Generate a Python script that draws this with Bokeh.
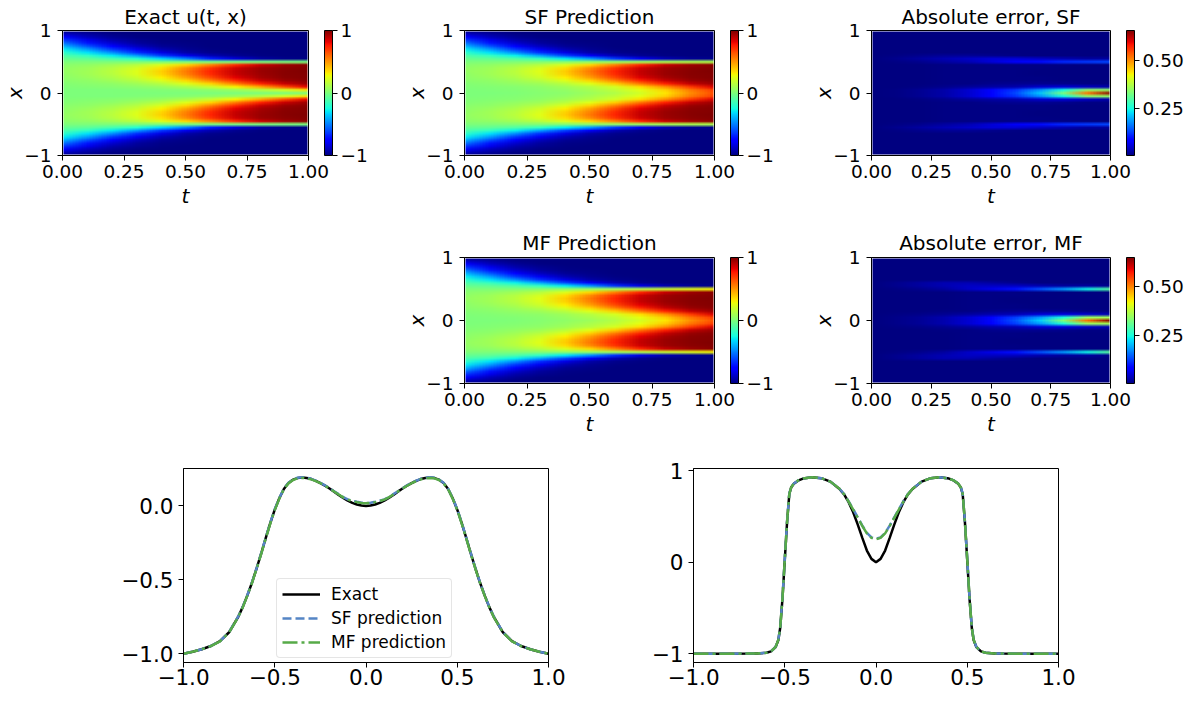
import base64
import struct
import zlib

import numpy as np
from bokeh.plotting import figure
from bokeh.layouts import row, column
from bokeh.models import (Range1d, FixedTicker, CustomJSTickFormatter, LinearColorMapper,
                          ColorBar, Spacer)
from bokeh.embed import file_html
from bokeh.resources import INLINE

# ---------------------------------------------------------------- data
# time samples (columns) and non-negative x samples (rows, mirrored for x<0)
T_GRID = [0.0, 0.1, 0.2, 0.3, 0.4, 0.5, 0.6, 0.7, 0.8, 0.9, 1.0]
X_HALF = [0.0, 0.05, 0.1, 0.15, 0.2, 0.25, 0.3, 0.35, 0.4, 0.45, 0.5,
          0.55, 0.6, 0.65, 0.7, 0.75, 0.8, 0.85, 0.9, 0.95, 1.0]

EXACT_HALF = [
    [0.000, 0.000, 0.000, 0.000, 0.000, 0.000, 0.000, 0.000, 0.000, 0.000, 0.000],
    [0.002, 0.004, 0.007, 0.011, 0.018, 0.030, 0.050, 0.082, 0.134, 0.217, 0.344],
    [0.010, 0.016, 0.026, 0.043, 0.070, 0.115, 0.187, 0.300, 0.460, 0.650, 0.816],
    [0.020, 0.033, 0.054, 0.089, 0.146, 0.237, 0.373, 0.552, 0.738, 0.874, 0.948],
    [0.032, 0.053, 0.088, 0.144, 0.233, 0.367, 0.546, 0.732, 0.871, 0.946, 0.979],
    [0.044, 0.073, 0.119, 0.195, 0.311, 0.474, 0.664, 0.826, 0.924, 0.970, 0.989],
    [0.053, 0.087, 0.143, 0.231, 0.365, 0.542, 0.729, 0.869, 0.945, 0.978, 0.992],
    [0.056, 0.092, 0.150, 0.242, 0.381, 0.561, 0.746, 0.879, 0.950, 0.981, 0.993],
    [0.049, 0.081, 0.133, 0.216, 0.343, 0.516, 0.705, 0.854, 0.938, 0.976, 0.991],
    [0.032, 0.052, 0.086, 0.141, 0.228, 0.360, 0.537, 0.724, 0.866, 0.944, 0.978],
    [0.000, 0.000, 0.000, 0.000, 0.000, 0.000, 0.000, 0.000, 0.000, 0.000, 0.000],
    [-0.047, -0.078, -0.128, -0.208, -0.330, -0.500, -0.689, -0.843, -0.933, -0.974, -0.990],
    [-0.111, -0.181, -0.291, -0.448, -0.637, -0.806, -0.913, -0.965, -0.987, -0.995, -0.998],
    [-0.192, -0.307, -0.470, -0.659, -0.822, -0.922, -0.969, -0.989, -0.996, -0.999, -1.000],
    [-0.288, -0.444, -0.633, -0.803, -0.912, -0.965, -0.987, -0.995, -0.998, -1.000, -1.000],
    [-0.398, -0.582, -0.763, -0.889, -0.955, -0.983, -0.994, -0.998, -1.000, -1.000, -1.000],
    [-0.518, -0.707, -0.855, -0.938, -0.977, -0.992, -0.997, -0.999, -1.000, -1.000, -1.000],
    [-0.644, -0.811, -0.916, -0.967, -0.988, -0.996, -0.999, -1.000, -1.000, -1.000, -1.000],
    [-0.770, -0.894, -0.956, -0.985, -0.995, -0.998, -1.000, -1.000, -1.000, -1.000, -1.000],
    [-0.891, -0.952, -0.985, -0.995, -0.998, -1.000, -1.000, -1.000, -1.000, -1.000, -1.000],
    [-1.000, -1.000, -1.000, -1.000, -1.000, -1.000, -1.000, -1.000, -1.000, -1.000, -1.000],
]

SF_HALF = [
    [0.000, 0.005, 0.012, 0.025, 0.045, 0.080, 0.130, 0.210, 0.330, 0.520, 0.660],
    [0.004, 0.009, 0.018, 0.035, 0.062, 0.105, 0.165, 0.255, 0.380, 0.560, 0.690],
    [0.011, 0.018, 0.031, 0.052, 0.086, 0.138, 0.215, 0.345, 0.510, 0.690, 0.840],
    [0.020, 0.034, 0.056, 0.092, 0.151, 0.246, 0.385, 0.564, 0.747, 0.879, 0.951],
    [0.032, 0.054, 0.090, 0.147, 0.237, 0.372, 0.551, 0.736, 0.873, 0.947, 0.980],
    [0.044, 0.074, 0.121, 0.198, 0.315, 0.478, 0.668, 0.829, 0.925, 0.970, 0.989],
    [0.053, 0.088, 0.145, 0.234, 0.369, 0.546, 0.732, 0.871, 0.946, 0.978, 0.992],
    [0.056, 0.093, 0.152, 0.245, 0.385, 0.565, 0.749, 0.881, 0.951, 0.981, 0.993],
    [0.049, 0.082, 0.135, 0.219, 0.347, 0.520, 0.709, 0.857, 0.939, 0.976, 0.991],
    [0.032, 0.053, 0.088, 0.144, 0.232, 0.365, 0.542, 0.728, 0.869, 0.945, 0.978],
    [0.000, 0.005, 0.010, 0.020, 0.030, 0.050, 0.070, 0.090, 0.110, 0.120, 0.130],
    [-0.047, -0.068, -0.108, -0.178, -0.290, -0.450, -0.639, -0.803, -0.903, -0.954, -0.970],
    [-0.111, -0.176, -0.281, -0.433, -0.622, -0.796, -0.908, -0.963, -0.986, -0.995, -0.998],
    [-0.192, -0.307, -0.470, -0.659, -0.822, -0.922, -0.969, -0.989, -0.996, -0.999, -1.000],
    [-0.288, -0.444, -0.633, -0.803, -0.912, -0.965, -0.987, -0.995, -0.998, -1.000, -1.000],
    [-0.398, -0.582, -0.763, -0.889, -0.955, -0.983, -0.994, -0.998, -1.000, -1.000, -1.000],
    [-0.518, -0.707, -0.855, -0.938, -0.977, -0.992, -0.997, -0.999, -1.000, -1.000, -1.000],
    [-0.644, -0.811, -0.916, -0.967, -0.988, -0.996, -0.999, -1.000, -1.000, -1.000, -1.000],
    [-0.770, -0.894, -0.956, -0.985, -0.995, -0.998, -1.000, -1.000, -1.000, -1.000, -1.000],
    [-0.891, -0.952, -0.985, -0.995, -0.998, -1.000, -1.000, -1.000, -1.000, -1.000, -1.000],
    [-1.000, -1.000, -1.000, -1.000, -1.000, -1.000, -1.000, -1.000, -1.000, -1.000, -1.000],
]

MF_HALF = [
    [0.000, 0.006, 0.014, 0.027, 0.048, 0.085, 0.135, 0.215, 0.335, 0.515, 0.650],
    [0.004, 0.010, 0.020, 0.037, 0.064, 0.110, 0.170, 0.260, 0.385, 0.565, 0.700],
    [0.011, 0.019, 0.032, 0.054, 0.089, 0.142, 0.220, 0.350, 0.515, 0.695, 0.845],
    [0.020, 0.034, 0.056, 0.092, 0.151, 0.246, 0.385, 0.564, 0.747, 0.879, 0.951],
    [0.032, 0.054, 0.089, 0.146, 0.236, 0.370, 0.549, 0.734, 0.872, 0.946, 0.979],
    [0.044, 0.074, 0.120, 0.197, 0.314, 0.477, 0.667, 0.828, 0.925, 0.970, 0.989],
    [0.053, 0.088, 0.145, 0.233, 0.368, 0.545, 0.731, 0.870, 0.946, 0.978, 0.992],
    [0.056, 0.093, 0.151, 0.244, 0.384, 0.564, 0.748, 0.880, 0.951, 0.981, 0.993],
    [0.049, 0.082, 0.134, 0.218, 0.346, 0.519, 0.708, 0.856, 0.939, 0.976, 0.991],
    [0.032, 0.053, 0.087, 0.143, 0.231, 0.364, 0.541, 0.727, 0.868, 0.945, 0.978],
    [0.000, 0.005, 0.010, 0.020, 0.040, 0.060, 0.090, 0.130, 0.180, 0.240, 0.300],
    [-0.047, -0.068, -0.108, -0.178, -0.290, -0.460, -0.649, -0.813, -0.913, -0.954, -0.980],
    [-0.111, -0.171, -0.271, -0.418, -0.607, -0.786, -0.903, -0.965, -0.987, -0.995, -0.998],
    [-0.192, -0.307, -0.470, -0.659, -0.822, -0.922, -0.969, -0.989, -0.996, -0.999, -1.000],
    [-0.288, -0.444, -0.633, -0.803, -0.912, -0.965, -0.987, -0.995, -0.998, -1.000, -1.000],
    [-0.398, -0.582, -0.763, -0.889, -0.955, -0.983, -0.994, -0.998, -1.000, -1.000, -1.000],
    [-0.518, -0.707, -0.855, -0.938, -0.977, -0.992, -0.997, -0.999, -1.000, -1.000, -1.000],
    [-0.644, -0.811, -0.916, -0.967, -0.988, -0.996, -0.999, -1.000, -1.000, -1.000, -1.000],
    [-0.770, -0.894, -0.956, -0.985, -0.995, -0.998, -1.000, -1.000, -1.000, -1.000, -1.000],
    [-0.891, -0.952, -0.985, -0.995, -0.998, -1.000, -1.000, -1.000, -1.000, -1.000, -1.000],
    [-1.000, -1.000, -1.000, -1.000, -1.000, -1.000, -1.000, -1.000, -1.000, -1.000, -1.000],
]

# line profiles (non-negative x, mirrored for x<0)
X_T025 = [0.0, 0.025, 0.05, 0.075, 0.1, 0.125, 0.15, 0.175, 0.2, 0.225, 0.25, 0.275,
          0.3, 0.325, 0.35, 0.375, 0.4, 0.425, 0.45, 0.475, 0.5, 0.525, 0.55, 0.575,
          0.6, 0.625, 0.65, 0.675, 0.7, 0.75, 0.8, 0.85, 0.9, 0.95, 1.0]
EXACT_T025 = [0.000, 0.003, 0.010, 0.021, 0.036, 0.055, 0.075, 0.097, 0.118, 0.138,
              0.155, 0.170, 0.182, 0.189, 0.192, 0.189, 0.178, 0.155, 0.115, 0.052,
              -0.025, -0.118, -0.220, -0.325, -0.425, -0.520, -0.605, -0.683, -0.750,
              -0.855, -0.915, -0.948, -0.970, -0.987, -1.000]
SF_T025 = [0.020, 0.022, 0.028, 0.035, 0.045, 0.060, 0.080, 0.100, 0.120, 0.140,
           0.157, 0.172, 0.184, 0.191, 0.194, 0.191, 0.180, 0.157, 0.117, 0.054,
           -0.022, -0.115, -0.217, -0.322, -0.423, -0.518, -0.603, -0.681, -0.748,
           -0.853, -0.915, -0.948, -0.970, -0.987, -1.000]
MF_T025 = [0.018, 0.020, 0.026, 0.033, 0.043, 0.058, 0.078, 0.098, 0.118, 0.137,
           0.154, 0.168, 0.180, 0.187, 0.190, 0.187, 0.176, 0.153, 0.113, 0.050,
           -0.028, -0.121, -0.223, -0.328, -0.428, -0.522, -0.607, -0.685, -0.752,
           -0.856, -0.916, -0.949, -0.970, -0.987, -1.000]

X_T075 = [0.0, 0.025, 0.05, 0.075, 0.1, 0.125, 0.15, 0.175, 0.2, 0.25, 0.3, 0.35,
          0.4, 0.425, 0.45, 0.465, 0.475, 0.4875, 0.5, 0.5125, 0.525, 0.535, 0.55,
          0.575, 0.6, 0.65, 0.7, 0.8, 0.9, 1.0]
EXACT_T075 = [0.000, 0.036, 0.127, 0.265, 0.410, 0.545, 0.655, 0.740, 0.800, 0.880,
              0.918, 0.927, 0.913, 0.893, 0.858, 0.815, 0.745, 0.430, 0.020, -0.400,
              -0.720, -0.850, -0.927, -0.975, -0.990, -0.997, -0.999, -1.000, -1.000,
              -1.000]
SF_T075 = [0.255, 0.270, 0.320, 0.400, 0.490, 0.580, 0.665, 0.745, 0.802, 0.880,
           0.918, 0.927, 0.913, 0.894, 0.860, 0.818, 0.750, 0.440, 0.030, -0.390,
           -0.712, -0.846, -0.925, -0.975, -0.990, -0.997, -0.999, -1.000, -1.000,
           -1.000]
MF_T075 = [0.250, 0.265, 0.315, 0.395, 0.485, 0.575, 0.662, 0.742, 0.801, 0.880,
           0.918, 0.927, 0.913, 0.894, 0.859, 0.816, 0.747, 0.435, 0.025, -0.395,
           -0.716, -0.848, -0.926, -0.975, -0.990, -0.997, -0.999, -1.000, -1.000,
           -1.000]

TITLES = ["Exact u(t, x)", "SF Prediction", "Absolute error, SF",
          "MF Prediction", "Absolute error, MF"]
LEGEND_LABELS = ["Exact", "SF prediction", "MF prediction"]
HEAT_X_TICKS = [0.0, 0.25, 0.5, 0.75, 1.0]
HEAT_Y_TICKS = [-1.0, 0.0, 1.0]
U_BAR_TICKS = [-1.0, 0.0, 1.0]
ERR_BAR_TICKS = [0.25, 0.5]
LINE_X_TICKS = [-1.0, -0.5, 0.0, 0.5, 1.0]
LEFT_Y_TICKS = [-1.0, -0.5, 0.0]
RIGHT_Y_TICKS = [-1.0, 0.0, 1.0]

# ---------------------------------------------------------------- style
FONT = "DejaVu Sans"
SF_COLOR = "#5585c5"
MF_COLOR = "#57aa48"


def jet_rgb(n=256):
    s = np.linspace(0.0, 1.0, n)
    r = np.interp(s, [0, 0.35, 0.66, 0.89, 1], [0, 0, 1, 1, 0.5])
    g = np.interp(s, [0, 0.125, 0.375, 0.64, 0.91, 1], [0, 0, 1, 1, 0, 0])
    b = np.interp(s, [0, 0.11, 0.34, 0.65, 1], [0.5, 1, 1, 0, 0])
    return np.round(255 * np.stack([r, g, b], axis=1)).astype(np.uint8)


JET_RGB = jet_rgb()
JET = ["#%02x%02x%02x" % tuple(int(c) for c in rgb) for rgb in JET_RGB]


def fmt(digits):
    return CustomJSTickFormatter(
        code="return tick.toFixed(%d).replace('-', '\\u2212');" % digits)


def full_field(half):
    h = np.array(half, dtype=float)
    return np.vstack([h[:0:-1], h])      # row 0 -> x = -1


def mirror(xs, ys):
    xs = np.array(xs, dtype=float)
    ys = np.array(ys, dtype=float)
    return np.concatenate([-xs[:0:-1], xs]), np.concatenate([ys[:0:-1], ys])


def field_png(field, mapper):
    """Colour the sampled field with the mapper's palette (same rule as a
    LinearColorMapper) and encode it as a PNG data URL, top row = x max."""
    lo, hi = mapper.low, mapper.high
    n = len(JET_RGB)
    idx = np.floor((field - lo) / (hi - lo) * n).astype(int)
    idx = np.clip(idx, 0, n - 1)
    rgb = JET_RGB[idx][::-1]
    h, w, _ = rgb.shape
    raw = b"".join(b"\x00" + rgb[i].tobytes() for i in range(h))

    def chunk(tag, data):
        return (struct.pack(">I", len(data)) + tag + data +
                struct.pack(">I", zlib.crc32(tag + data) & 0xFFFFFFFF))

    png = (b"\x89PNG\r\n\x1a\n" +
           chunk(b"IHDR", struct.pack(">IIBBBBB", w, h, 8, 2, 0, 0, 0)) +
           chunk(b"IDAT", zlib.compress(raw, 9)) + chunk(b"IEND", b""))
    return "data:image/png;base64," + base64.b64encode(png).decode("ascii")


def style_axes(p, size, xstand, ystand):
    for ax, st in ((p.xaxis[0], xstand), (p.yaxis[0], ystand)):
        ax.axis_line_color = "black"
        ax.major_tick_line_color = "black"
        ax.minor_tick_line_color = None
        ax.major_tick_out = 5
        ax.major_tick_in = 0
        ax.major_label_text_font = FONT
        ax.major_label_text_font_size = size
        ax.major_label_text_color = "black"
        ax.major_label_standoff = st
    p.outline_line_color = "black"
    p.outline_line_width = 1
    p.xgrid.visible = False
    p.ygrid.visible = False


def heatmap(title, field, mapper, bar_ticks, bar_digits, width, left, right,
            height, top, bottom, title_standoff):
    p = figure(width=width, height=height, x_range=Range1d(0, 1), y_range=Range1d(-1, 1),
               output_backend="svg", toolbar_location=None,
               min_border_left=left, min_border_right=right,
               min_border_top=top, min_border_bottom=bottom)
    dt = T_GRID[1] - T_GRID[0]
    dx = X_HALF[1] - X_HALF[0]
    p.image_url(url=[field_png(field, mapper)], x=T_GRID[0] - dt / 2,
                y=-X_HALF[-1] - dx / 2, w=T_GRID[-1] - T_GRID[0] + dt,
                h=2 * X_HALF[-1] + dx, anchor="bottom_left")
    style_axes(p, "18.5px", 4, 6)
    p.xaxis.ticker = FixedTicker(ticks=HEAT_X_TICKS)
    p.yaxis.ticker = FixedTicker(ticks=HEAT_Y_TICKS)
    p.xaxis.formatter = fmt(2)
    p.yaxis.formatter = fmt(0)
    p.xaxis.axis_label = "t"
    p.yaxis.axis_label = "x"
    for ax, st in ((p.xaxis[0], 3), (p.yaxis[0], -6)):
        ax.axis_label_text_font = FONT
        ax.axis_label_text_font_style = "italic"
        ax.axis_label_text_font_size = "20px"
        ax.axis_label_text_color = "black"
        ax.axis_label_standoff = st
    p.title.text = title
    p.title.align = "center"
    p.title.text_font = FONT
    p.title.text_font_size = "20px"
    p.title.text_font_style = "normal"
    p.title.text_color = "black"
    p.title.standoff = title_standoff
    frame_h = height - top - bottom
    cb = ColorBar(color_mapper=mapper, ticker=FixedTicker(ticks=bar_ticks),
                  formatter=fmt(bar_digits), width=8, height=frame_h,
                  padding=0, margin=0, location=(16, 0),
                  major_tick_out=5, major_tick_in=0, major_tick_line_color="black",
                  minor_tick_line_color=None, bar_line_color="black",
                  label_standoff=3, major_label_text_font=FONT,
                  major_label_text_font_size="18.5px", major_label_text_color="black",
                  background_fill_alpha=0, border_line_color=None)
    p.add_layout(cb, "right")
    return p


exact_f = full_field(EXACT_HALF)
sf_f = full_field(SF_HALF)
mf_f = full_field(MF_HALF)
err_sf = np.abs(exact_f - sf_f)
err_mf = np.abs(exact_f - mf_f)

u_map = LinearColorMapper(palette=JET, low=-1.0, high=1.0)
esf_map = LinearColorMapper(palette=JET, low=float(err_sf.min()), high=float(err_sf.max()))
emf_map = LinearColorMapper(palette=JET, low=float(err_mf.min()), high=float(err_mf.max()))

pA = heatmap(TITLES[0], exact_f, u_map, U_BAR_TICKS, 0, 380, 59, 72, 226, 30, 71, 4)
pB = heatmap(TITLES[1], sf_f, u_map, U_BAR_TICKS, 0, 405, 84, 71, 226, 30, 71, 4)
pC = heatmap(TITLES[2], err_sf, esf_map, ERR_BAR_TICKS, 2, 401, 86, 66, 226, 30, 71, 4)
pD = heatmap(TITLES[3], mf_f, u_map, U_BAR_TICKS, 0, 405, 84, 71, 216, 31, 59, 5)
pE = heatmap(TITLES[4], err_mf, emf_map, ERR_BAR_TICKS, 2, 401, 86, 66, 216, 31, 59, 5)


def profile_plot(xs, ex, sf, mf, yticks, ydigits, width, left, right, legend):
    curves = [mirror(xs, ex), mirror(xs, sf), mirror(xs, mf)]
    allv = np.concatenate([c[1] for c in curves])
    lo, hi = float(allv.min()), float(allv.max())
    pad = 0.05 * (hi - lo)
    p = figure(width=width, height=252, x_range=Range1d(-1, 1),
               y_range=Range1d(lo - pad, hi + pad),
               output_backend="svg", toolbar_location=None,
               min_border_left=left, min_border_right=right,
               min_border_top=26, min_border_bottom=32)
    kw = [dict(line_color="black", line_width=2.5),
          dict(line_color=SF_COLOR, line_width=2.5, line_dash="9 4"),
          dict(line_color=MF_COLOR, line_width=2.5, line_dash="15 4 3 4")]
    for (cx, cy), k, lab in zip(curves, kw, LEGEND_LABELS):
        if legend:
            p.line(cx, cy, legend_label=lab, **k)
        else:
            p.line(cx, cy, **k)
    style_axes(p, "21.5px", 1, 5)
    p.xaxis.ticker = FixedTicker(ticks=LINE_X_TICKS)
    p.yaxis.ticker = FixedTicker(ticks=yticks)
    p.xaxis.formatter = fmt(1)
    p.yaxis.formatter = fmt(ydigits)
    if legend:
        lg = p.legend[0]
        lg.location = (93, 4)
        lg.margin = 0
        lg.padding = 5
        lg.spacing = 4
        lg.label_height = 18
        lg.glyph_height = 18
        lg.glyph_width = 38
        lg.label_standoff = 11
        lg.label_text_font = FONT
        lg.label_text_font_size = "17px"
        lg.label_text_color = "black"
        lg.border_line_color = "#cccccc"
        lg.border_line_width = 1
        lg.background_fill_alpha = 0.8
        lg.border_radius = 4
    return p


pF = profile_plot(X_T025, EXACT_T025, SF_T025, MF_T025, LEFT_Y_TICKS, 1, 600, 183, 52, True)
pG = profile_plot(X_T075, EXACT_T075, SF_T075, MF_T075, RIGHT_Y_TICKS, 0, 508, 93, 50, False)

row1 = row(pA, pB, pC)
row2 = row(Spacer(width=380, height=216), pD, pE)
row3 = row(pF, pG)
root = column(row1, row2, row3)

open("out.html", "w").write(file_html(root, INLINE))
